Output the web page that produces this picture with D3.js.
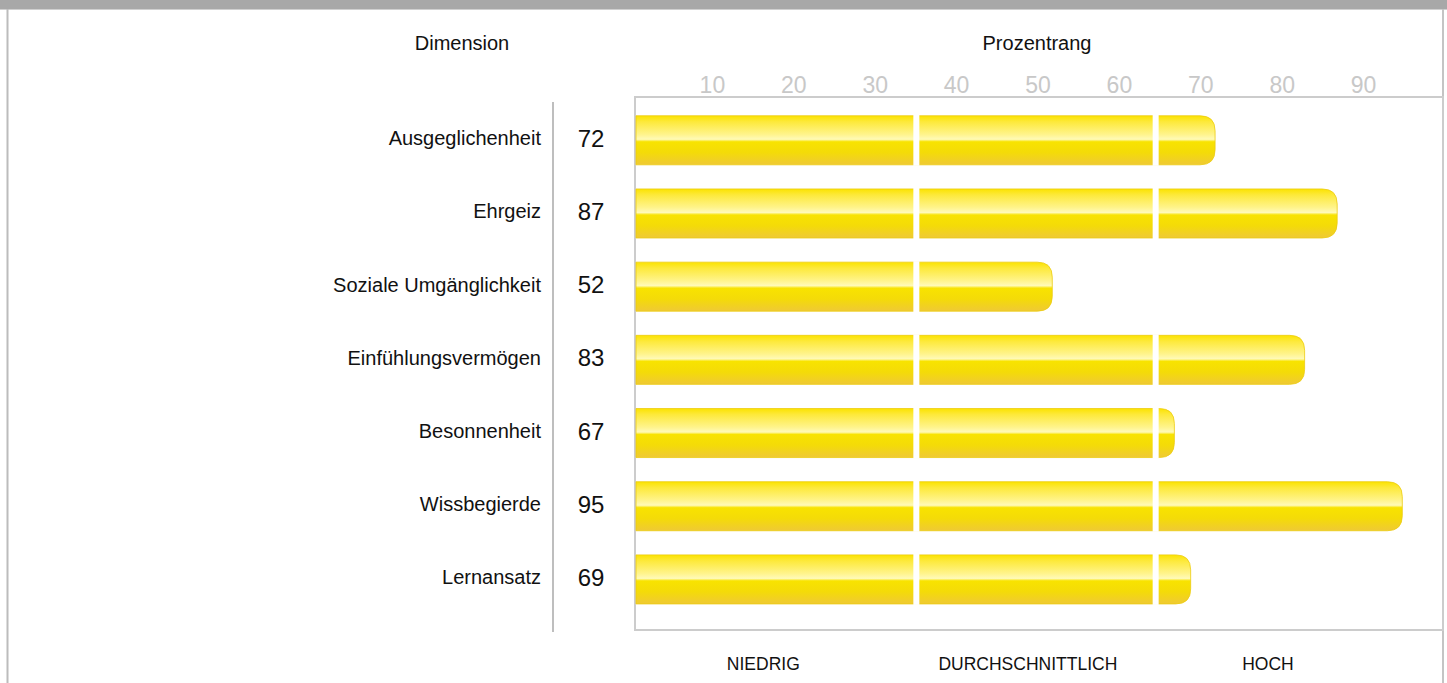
<!DOCTYPE html>
<html>
<head>
<meta charset="utf-8">
<script src="https://cdn.jsdelivr.net/npm/d3@7"></script>
<style>
  body { margin: 0; background: #fff; font-family: "Liberation Sans", Arial, sans-serif; }
  svg { display: block; }
</style>
</head>
<body>
<svg></svg>
<script>
// chart data
var dimensions = ["Ausgeglichenheit", "Ehrgeiz", "Soziale Umgänglichkeit", "Einfühlungsvermögen",
  "Besonnenheit", "Wissbegierde", "Lernansatz"];
var percentRanks = [72, 87, 52, 83, 67, 95, 69];
var tickValues = [10, 20, 30, 40, 50, 60, 70, 80, 90];
var bandNames = ["NIEDRIG", "DURCHSCHNITTLICH", "HOCH"];
var bandBreaks = [35.3, 64.7];
var bandLabelAt = [16.5, 49, 78.5];

var width = 1447, height = 683;

var svg = d3.select("svg")
  .attr("width", width)
  .attr("height", height);

// page frame
svg.append("rect").attr("x", 0).attr("y", 0).attr("width", width).attr("height", 9).attr("fill", "#a8a8a8");
svg.append("line").attr("x1", 0).attr("x2", width).attr("y1", 9.5).attr("y2", 9.5)
  .attr("stroke", "#d0d0d0").attr("stroke-width", 1);
svg.append("line").attr("x1", 7.5).attr("x2", 7.5).attr("y1", 9).attr("y2", height)
  .attr("stroke", "#bcbcbc").attr("stroke-width", 2);
svg.append("line").attr("x1", 1443).attr("x2", 1443).attr("y1", 9).attr("y2", height)
  .attr("stroke", "#c4c4c4").attr("stroke-width", 2);

var plotLeft = 635, plotTop = 97, plotBottom = 630;

var x = d3.scaleLinear().domain([0, 100]).range([629, 1443]);
var y = d3.scaleBand()
  .domain(dimensions)
  .range([103.7, 616])
  .paddingInner(0.33)
  .paddingOuter(0.165);

// gradient for bars
var defs = svg.append("defs");
var grad = defs.append("linearGradient")
  .attr("id", "barGrad")
  .attr("x1", 0).attr("x2", 0).attr("y1", 0).attr("y2", 1);
[["0%", "#fbe300"], ["12%", "#fde93a"], ["38%", "#fff48c"], ["48%", "#fffab8"],
 ["53%", "#f8e300"], ["75%", "#f4db08"], ["100%", "#efc935"]].forEach(function(s) {
  grad.append("stop").attr("offset", s[0]).attr("stop-color", s[1]);
});

// headers
svg.append("text").attr("x", 462).attr("y", 50).attr("text-anchor", "middle")
  .style("font-size", "20px").attr("fill", "#111").text("Dimension");
svg.append("text").attr("x", 1037).attr("y", 50).attr("text-anchor", "middle")
  .style("font-size", "20px").attr("fill", "#111").text("Prozentrang");

// top tick labels
svg.append("g")
  .selectAll("text")
  .data(tickValues)
  .enter().append("text")
  .attr("x", function(d) { return x(d) + 2; })
  .attr("y", 92.5)
  .attr("text-anchor", "middle")
  .style("font-size", "23px")
  .attr("fill", "#c8c8c8")
  .text(function(d) { return d; });

// plot frame
svg.append("rect")
  .attr("x", plotLeft).attr("y", plotTop)
  .attr("width", 1443 - plotLeft).attr("height", plotBottom - plotTop)
  .attr("fill", "none").attr("stroke", "#cccccc").attr("stroke-width", 2);

// divider between labels and values
svg.append("line")
  .attr("x1", 553).attr("x2", 553).attr("y1", 102).attr("y2", 632)
  .attr("stroke", "#a8a8a8").attr("stroke-width", 1.5);

var rows = dimensions.map(function(d, i) { return { name: d, value: percentRanks[i] }; });

// bar path with rounded right end
function barPath(d) {
  var x0 = plotLeft + 1, x1 = x(d.value), y0 = y(d.name), h = y.bandwidth();
  var r = Math.min(15, (x1 - x0) / 2);
  return "M" + x0 + "," + y0 +
    "H" + (x1 - r) +
    "Q" + x1 + "," + y0 + " " + x1 + "," + (y0 + r) +
    "V" + (y0 + h - r) +
    "Q" + x1 + "," + (y0 + h) + " " + (x1 - r) + "," + (y0 + h) +
    "H" + x0 + "Z";
}

var bars = svg.append("g").attr("class", "bars");
bars.selectAll("path")
  .data(rows)
  .enter().append("path")
  .attr("d", barPath)
  .attr("fill", "url(#barGrad)")
  .attr("stroke", "#eccb10")
  .attr("stroke-width", 0.8);

// white gaps splitting bars at the band breaks
bars.selectAll("rect.gap")
  .data(d3.cross(rows, bandBreaks).filter(function(d) { return d[0].value > d[1]; }))
  .enter().append("rect")
  .attr("class", "gap")
  .attr("x", function(d) { return x(d[1]) - 3; })
  .attr("y", function(d) { return y(d[0].name) - 1; })
  .attr("width", 6)
  .attr("height", y.bandwidth() + 2)
  .attr("fill", "#fff");

// dimension labels
svg.append("g")
  .selectAll("text")
  .data(rows)
  .enter().append("text")
  .attr("x", 541)
  .attr("y", function(d) { return y(d.name) + y.bandwidth() / 2 + 5; })
  .attr("text-anchor", "end")
  .style("font-size", "20px")
  .attr("fill", "#111")
  .text(function(d) { return d.name; });

// value labels
svg.append("g")
  .selectAll("text")
  .data(rows)
  .enter().append("text")
  .attr("x", 591)
  .attr("y", function(d) { return y(d.name) + y.bandwidth() / 2 + 6.5; })
  .attr("text-anchor", "middle")
  .style("font-size", "24px")
  .attr("fill", "#111")
  .text(function(d) { return d.value; });

// band labels below
svg.append("g")
  .selectAll("text")
  .data(bandNames)
  .enter().append("text")
  .attr("x", function(d, i) { return x(bandLabelAt[i]); })
  .attr("y", 670)
  .attr("text-anchor", "middle")
  .style("font-size", "17.5px")
  .attr("fill", "#111")
  .text(function(d) { return d; });
</script>
</body>
</html>
